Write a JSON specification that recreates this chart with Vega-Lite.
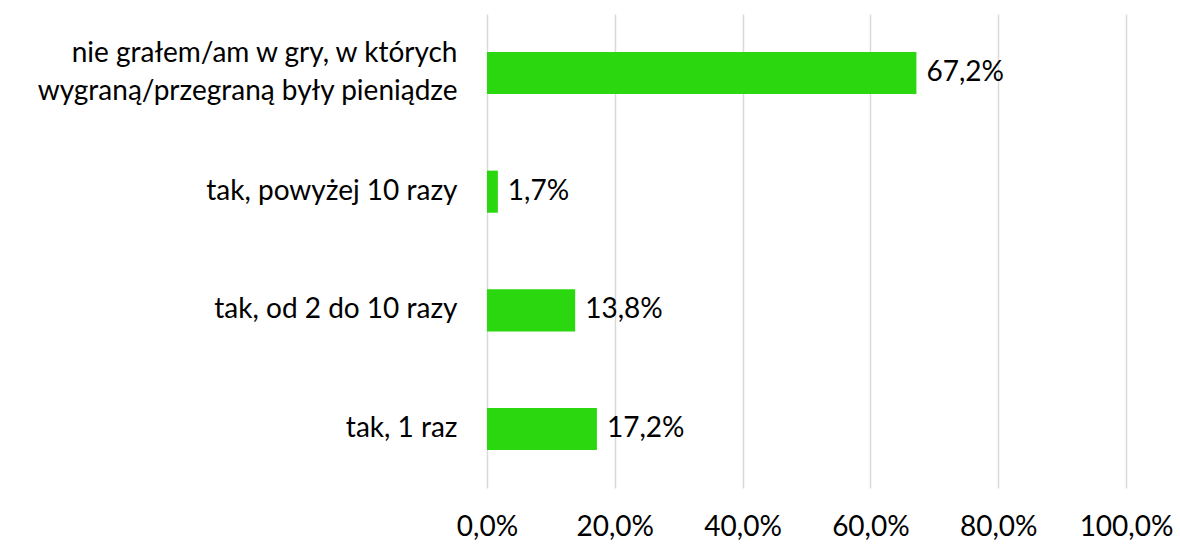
{
  "$schema": "https://vega.github.io/schema/vega-lite/v6.json",
  "width": 639,
  "height": 474,
  "autosize": {"type": "none"},
  "padding": {"left": 487, "top": 14, "right": 54, "bottom": 56},
  "background": "white",
  "config": {
    "locale": {"number": {"decimal": ",", "thousands": " ", "grouping": [3], "currency": ["", " zł"]}},
    "font": "Lato",
    "view": {"stroke": null}
  },
  "data": {
    "values": [
      {"kategoria": "nie grałem/am w gry, w których wygraną/przegraną były pieniądze", "wartosc": 0.672},
      {"kategoria": "tak, powyżej 10 razy", "wartosc": 0.017},
      {"kategoria": "tak, od 2 do 10 razy", "wartosc": 0.138},
      {"kategoria": "tak, 1 raz", "wartosc": 0.172}
    ]
  },
  "encoding": {
    "y": {
      "field": "kategoria",
      "type": "nominal",
      "sort": null,
      "scale": {"paddingInner": 0.645, "paddingOuter": 0.32},
      "axis": {
        "title": null,
        "domain": false,
        "ticks": false,
        "labelPadding": 30,
        "labelFont": "Lato",
        "labelFontSize": 28,
        "labelColor": "#000000",
        "labelLimit": 600,
        "labelLineHeight": 38,
        "labelOffset": {"condition": {"test": "indexof(datum.value, 'nie ') == 0", "value": -19}, "value": 0},
        "labelExpr": "datum.value == 'nie grałem/am w gry, w których wygraną/przegraną były pieniądze' ? ['nie grałem/am w gry, w których', 'wygraną/przegraną były pieniądze'] : datum.value"
      }
    },
    "x": {
      "field": "wartosc",
      "type": "quantitative",
      "scale": {"domain": [0, 1], "nice": false},
      "axis": {
        "title": null,
        "format": ".1%",
        "values": [0, 0.2, 0.4, 0.6, 0.8, 1.0],
        "domain": false,
        "ticks": false,
        "grid": true,
        "gridColor": "#d9d9d9",
        "gridWidth": 1.5,
        "labelPadding": 25,
        "labelFont": "Lato",
        "labelFontSize": 28,
        "labelColor": "#000000",
        "labelFlush": false
      }
    }
  },
  "layer": [
    {"mark": {"type": "bar", "color": "#2bd80f"}},
    {
      "mark": {"type": "text", "align": "left", "baseline": "middle", "dx": 10, "font": "Lato", "fontSize": 28, "color": "#000000"},
      "encoding": {"text": {"field": "wartosc", "type": "quantitative", "format": ".1%"}}
    }
  ]
}
